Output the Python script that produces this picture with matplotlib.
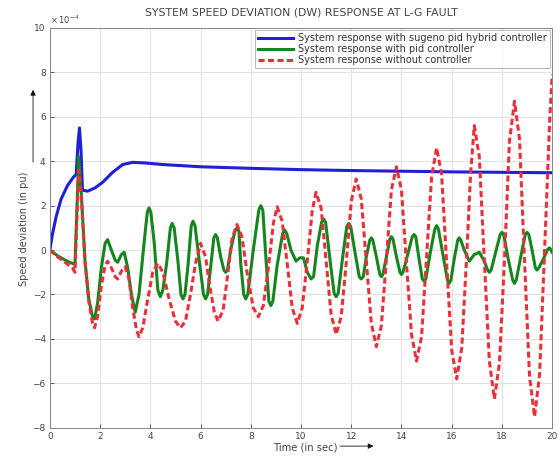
import matplotlib
matplotlib.use('Agg')
import matplotlib.pyplot as plt
from matplotlib.patches import FancyArrowPatch

# speed deviation values in units of 1e-4 pu
t_blue = [0, 0.1, 0.25, 0.45, 0.7, 0.95, 1.05, 1.12, 1.18, 1.24, 1.3, 1.5, 1.8, 2.1, 2.5,
          2.9, 3.3, 3.8, 4.5, 6, 8, 10, 12, 14, 16, 18, 20]
y_blue = [0, 0.7, 1.5, 2.3, 2.9, 3.3, 3.4, 4.8, 5.5, 4.5, 2.7, 2.65, 2.8, 3.05, 3.5,
          3.85, 3.95, 3.92, 3.85, 3.75, 3.68, 3.62, 3.58, 3.55, 3.52, 3.5, 3.48]

t_green = [0, 0.3, 0.6, 0.9, 1.0, 1.08, 1.15, 1.25, 1.4, 1.55, 1.7, 1.78, 1.9, 2.05, 2.2,
           2.3, 2.45, 2.6, 2.7, 2.85, 2.96, 3.1, 3.25, 3.4, 3.55, 3.75, 3.88, 3.95, 4.02,
           4.15, 4.3, 4.4, 4.5, 4.65, 4.8, 4.87, 4.95, 5.1, 5.22, 5.3, 5.38, 5.5, 5.63,
           5.7, 5.78, 5.95, 6.12, 6.2, 6.28, 6.4, 6.53, 6.6, 6.67, 6.8, 6.93, 7.0, 7.07,
           7.2, 7.37, 7.45, 7.53, 7.6, 7.72, 7.8, 7.88, 8.1, 8.32, 8.4, 8.48, 8.6, 8.72,
           8.8, 8.88, 9.05, 9.27, 9.35, 9.43, 9.6, 9.8, 9.95, 10.1, 10.25, 10.4, 10.5,
           10.65, 10.82, 10.9, 10.98, 11.15, 11.32, 11.4, 11.48, 11.65, 11.82, 11.9,
           11.98, 12.15, 12.32, 12.4, 12.48, 12.6, 12.74, 12.8, 12.86, 13.0, 13.14, 13.2,
           13.26, 13.4, 13.54, 13.6, 13.66, 13.8, 13.94, 14.0, 14.06, 14.25, 14.43, 14.5,
           14.57, 14.7, 14.83, 14.9, 14.97, 15.15, 15.33, 15.4, 15.47, 15.65, 15.83, 15.9,
           15.97, 16.1, 16.24, 16.3, 16.36, 16.5, 16.7, 16.9, 17.1, 17.3, 17.43, 17.5,
           17.57, 17.75, 17.93, 18.0, 18.07, 18.25, 18.43, 18.5, 18.57, 18.75, 18.93, 19.0,
           19.07, 19.2, 19.33, 19.4, 19.47, 19.65, 19.83, 19.9, 20.0]
y_green = [0, -0.25, -0.45, -0.6, -0.65, 2.0, 4.2, 2.6, -0.5, -2.2, -3.0, -3.1, -2.4, -0.8, 0.3,
           0.47, 0.0, -0.45, -0.55, -0.2, -0.1, -0.8, -2.0, -2.8, -2.0, 0.3, 1.7, 1.9, 1.7,
           0.4, -1.8, -2.1, -1.8, -0.6, 1.0, 1.2, 1.0, -0.5, -2.0, -2.2, -2.0, -0.7, 1.1,
           1.3, 1.1, -0.5, -2.0, -2.2, -2.0, -0.8, 0.55, 0.7, 0.55, -0.3, -0.9, -1.0, -0.9,
           0.0, 0.85, 1.0, 0.85, -0.6, -2.0, -2.2, -2.0, 0.0, 1.8, 2.0, 1.8, -0.3, -2.3,
           -2.5, -2.3, -0.7, 0.75, 0.9, 0.75, 0.0, -0.5, -0.35, -0.35, -1.0, -1.3, -1.2,
           0.2, 1.25, 1.4, 1.25, -0.4, -1.95, -2.1, -1.95, -0.4, 1.05, 1.2, 1.05, -0.1,
           -1.2, -1.3, -1.2, -0.3, 0.45, 0.55, 0.45, -0.3, -1.1, -1.2, -1.1, -0.3, 0.5,
           0.6, 0.5, -0.3, -1.0, -1.1, -1.0, -0.2, 0.6, 0.7, 0.6, -0.4, -1.3, -1.4, -1.3,
           -0.1, 0.95, 1.1, 0.95, -0.2, -1.35, -1.5, -1.35, -0.4, 0.45, 0.55, 0.45, 0.0,
           -0.5, -0.2, -0.1, -0.5, -0.9, -1.0, -0.9, -0.1, 0.7, 0.8, 0.7, -0.4, -1.35,
           -1.5, -1.35, -0.3, 0.7, 0.8, 0.7, 0.0, -0.8, -0.9, -0.8, -0.4, 0.05, 0.1, -0.1]

t_red = [0.0, 0.3, 0.6, 0.9, 1.0, 1.08, 1.15, 1.25, 1.4, 1.55, 1.7, 1.78, 1.9, 2.05, 2.2, 2.3,
         2.45, 2.6, 2.7, 2.85, 3.0, 3.15, 3.3, 3.45, 3.55, 3.7, 3.9, 4.1, 4.3, 4.5, 4.75,
         5.0, 5.2, 5.4, 5.6, 5.8, 6.0, 6.2, 6.35, 6.55, 6.7, 6.9, 7.05, 7.25, 7.45, 7.65,
         7.85, 8.1, 8.3, 8.5, 8.7, 8.9, 9.05, 9.25, 9.45, 9.65, 9.85, 10.05, 10.25, 10.45,
         10.6, 10.8, 11.0, 11.2, 11.4, 11.6, 11.8, 12.0, 12.2, 12.4, 12.6, 12.8, 13.0,
         13.2, 13.4, 13.6, 13.8, 14.0, 14.2, 14.4, 14.6, 14.8, 15.0, 15.2, 15.4, 15.6,
         15.8, 16.0, 16.2, 16.4, 16.6, 16.75, 16.9, 17.1, 17.3, 17.5, 17.7, 17.9, 18.1,
         18.3, 18.5, 18.7, 18.9, 19.1, 19.3, 19.5, 19.7, 19.9, 20.0]
y_red = [0.0, -0.3, -0.55, -0.8, -1.0, 1.5, 3.6, 2.5, -0.5, -2.3, -3.3, -3.5, -3.0, -1.6, -0.7,
         -0.5, -0.8, -1.2, -1.3, -0.95, -0.75, -1.3, -2.6, -3.6, -3.9, -3.5, -2.2, -1.0,
         -0.6, -1.0, -2.2, -3.2, -3.5, -3.2, -2.0, -0.6, 0.3, -0.3, -1.5, -2.8, -3.2, -2.7,
         -1.4, 0.5, 1.15, 0.6, -1.0, -2.6, -3.0, -2.5, -0.8, 1.2, 1.95, 1.3, -0.6, -2.6,
         -3.3, -2.6, -0.5, 1.8, 2.6, 1.9, -0.5, -2.9, -3.8, -3.0, -0.6, 2.2, 3.2, 2.3,
         -0.5, -3.3, -4.35, -3.4, -0.4, 2.7, 3.75, 2.7, -0.6, -3.8, -5.0, -3.9, -0.3, 3.3,
         4.6, 3.4, -0.6, -4.5, -5.8, -4.4, -0.2, 3.4, 5.6, 4.2, -0.5, -5.0, -6.7, -5.1,
         -0.5, 4.9, 6.7, 5.0, -0.5, -5.7, -7.5, -5.6, 0.0, 5.8, 7.9]

labels = ['System response with sugeno pid hybrid controller',
          'System response with pid controller',
          'System response without controller']
x_ticks = [0, 2, 4, 6, 8, 10, 12, 14, 16, 18, 20]
y_ticks = [-8, -6, -4, -2, 0, 2, 4, 6, 8, 10]

txt_col = '#444444'

fig = plt.figure(figsize=(5.6, 4.58), dpi=100)
ax = fig.add_axes([0.089, 0.066, 0.897, 0.873])

ax.plot(t_blue, y_blue, color='#1f1fd6', lw=2.2, label=labels[0])
ax.plot(t_green, y_green, color='#17851f', lw=2.2, label=labels[1])
ax.plot(t_red, y_red, color='#e8303a', lw=2.2, ls=(0, (2.0, 1.1)), label=labels[2])

ax.set_xlim(0, 20)
ax.set_ylim(-8, 10)
ax.set_xticks(x_ticks)
ax.set_yticks(y_ticks)
ax.tick_params(labelsize=6.5, colors=txt_col, direction='in', length=3, width=0.6, pad=3)
ax.grid(True, color='#e2e2e2', lw=0.8)
for s in ax.spines.values():
    s.set_color('#888888')
    s.set_linewidth(0.7)

# exponent marker at the top of the y axis
ax.text(0.0, 1.005, r'$\times\,10^{-4}$', transform=ax.transAxes, fontsize=6,
        color=txt_col, ha='left', va='bottom')

ax.set_title('SYSTEM SPEED DEVIATION (DW) RESPONSE AT L-G FAULT', fontsize=7.8,
             color=txt_col, pad=9)
fig.text(0.042, 0.5, 'Speed deviation (in pu)', fontsize=7, color=txt_col,
         rotation=90, ha='center', va='center')

fig.text(0.487, 0.024, 'Time (in sec)', fontsize=7.2, color=txt_col, ha='left', va='center')
fig.add_artist(FancyArrowPatch((0.602, 0.026), (0.672, 0.026), transform=fig.transFigure,
                               arrowstyle='-|>', mutation_scale=8, color='#111111', lw=0.6))
fig.add_artist(FancyArrowPatch((0.059, 0.64), (0.059, 0.81), transform=fig.transFigure,
                               arrowstyle='-|>', mutation_scale=8, color='#111111', lw=0.6))

leg = ax.legend(loc='upper right', fontsize=7, frameon=True, fancybox=False,
                borderpad=0.3, labelspacing=0.1, handlelength=3.6, handletextpad=0.5,
                borderaxespad=0.25)
leg.get_frame().set_edgecolor('#999999')
leg.get_frame().set_linewidth(0.6)
for txt in leg.get_texts():
    txt.set_color('#333333')

plt.savefig('out.png', dpi=100)
